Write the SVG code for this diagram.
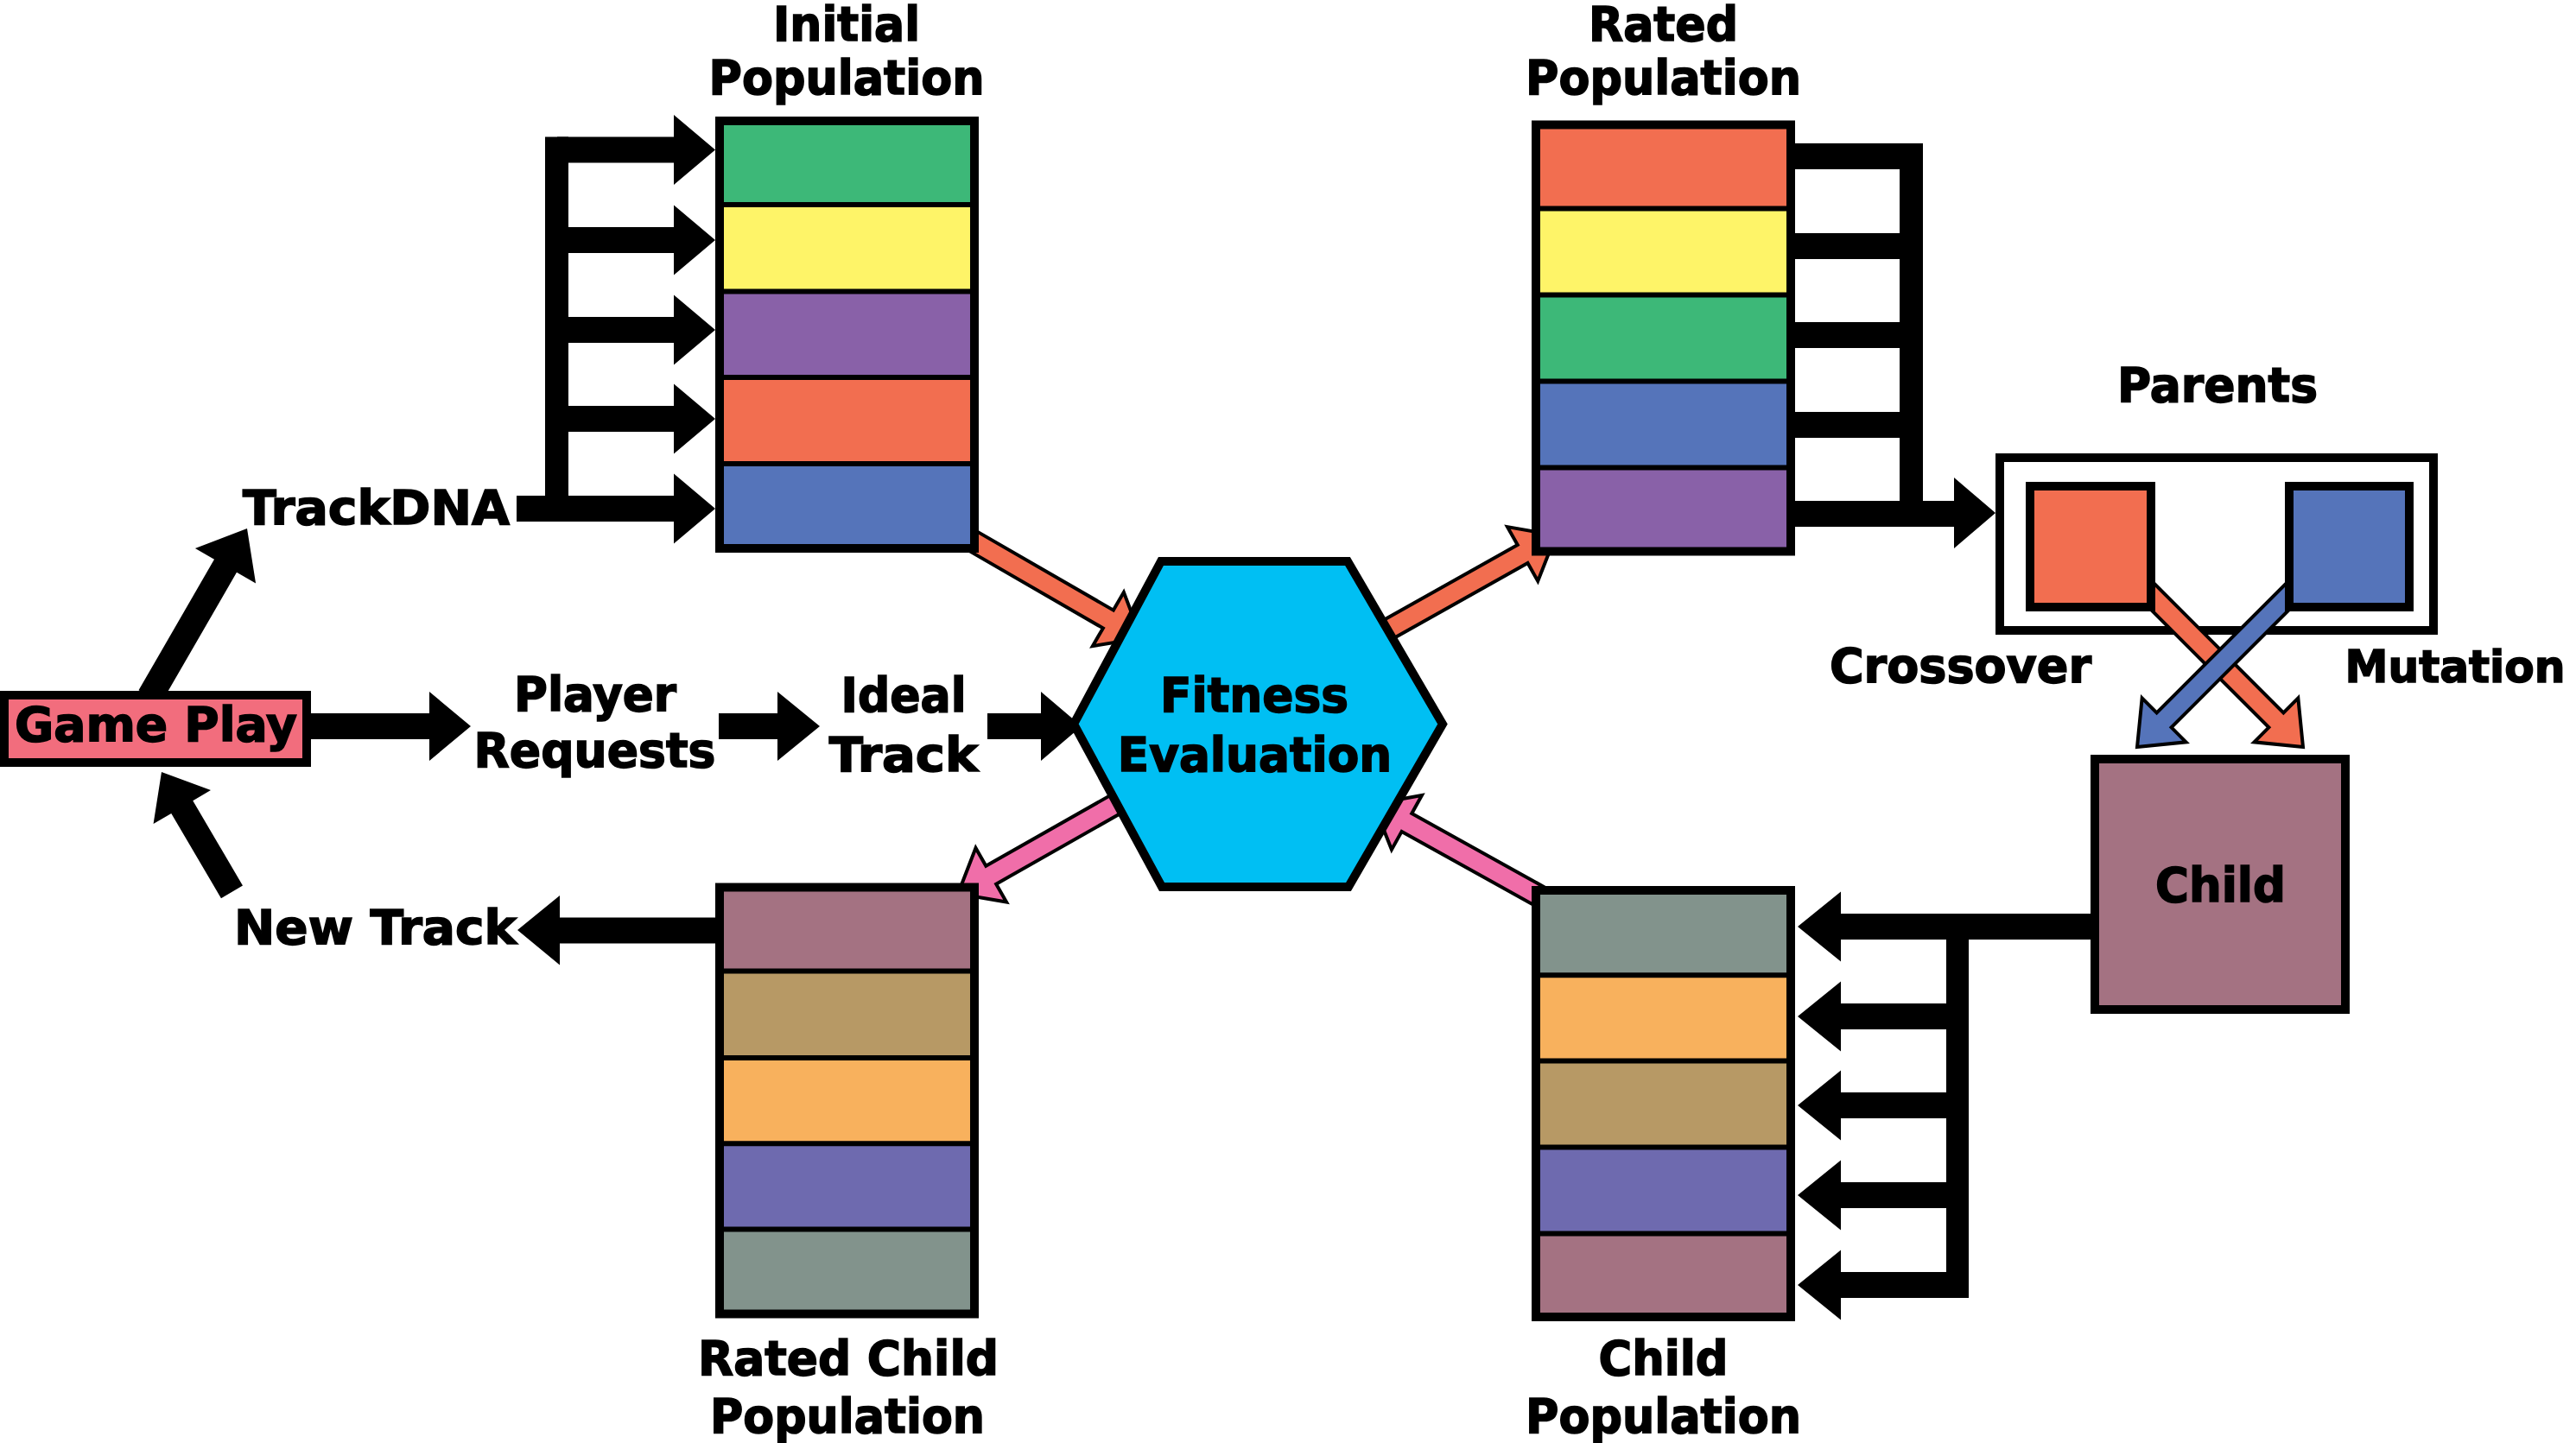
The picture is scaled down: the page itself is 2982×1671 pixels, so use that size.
<svg xmlns="http://www.w3.org/2000/svg" width="2982" height="1671" viewBox="0 0 2982 1671">
<style>
  text { font-family: "DejaVu Sans", "Liberation Sans", sans-serif; font-weight: bold; font-size: 55px; fill: #000; stroke: #000; stroke-width: 1.6px; }
  .c { text-anchor: middle; }
  .blk { fill: #000; }
  .frame { fill: none; stroke: #000; stroke-width: 10; }
  .div { stroke: #000; stroke-width: 6; }
  .carrow { stroke: #000; stroke-width: 4; stroke-linejoin: miter; }
  .g1 { fill: #3DB878; } .y1 { fill: #FEF468; } .p1 { fill: #8961A8; } .o1 { fill: #F26E50; } .b1 { fill: #5574BA; }
  .m1 { fill: #A47282; } .t1 { fill: #B79965; } .lo { fill: #F8B15D; } .v1 { fill: #6E6AAF; } .gr { fill: #82938C; }
  .pk { fill: #F06EA9; }
</style>
<rect x="0" y="0" width="2982" height="1671" fill="#fff"/>

<g id="node-parents-frame">
  <rect x="2315" y="530" width="502" height="200" fill="#fff" stroke="#000" stroke-width="10"/>
  <text class="c" x="2567" y="465" textLength="232" lengthAdjust="spacingAndGlyphs">Parents</text>
</g>

<g id="connectors">
  <rect class="blk" x="631" y="158.5" width="27" height="445.5"/>
  <polygon class="blk" points="645,158.5 780,158.5 780,133 828,173.5 780,214 780,188.5 645,188.5"/>
  <polygon class="blk" points="645,263 780,263 780,237.5 828,278 780,318.5 780,293 645,293"/>
  <polygon class="blk" points="645,367 780,367 780,341.5 828,382 780,422.5 780,397 645,397"/>
  <polygon class="blk" points="645,470 780,470 780,444.5 828,485 780,525.5 780,500 645,500"/>
  <polygon class="blk" points="598,574 780,574 780,548.5 828,589 780,629.5 780,604 598,604"/>

  <polygon class="blk" transform="translate(286,612) rotate(-60)" points="-225,-15 -50,-15 -50,-40.5 0,0 -50,40.5 -50,15 -225,15"/>
  <polygon class="blk" transform="translate(187,894) rotate(-120.4)" points="-161,-14.5 -47,-14.5 -47,-38.5 0,0 -47,38.5 -47,14.5 -161,14.5"/>

  <polygon class="blk" points="355,826 497,826 497,801 545,841 497,881 497,856 355,856"/>
  <polygon class="blk" points="832,826 900,826 900,801 949,841 900,881 900,856 832,856"/>
  <polygon class="blk" points="1143,826 1205,826 1205,801 1252,841 1205,881 1205,856 1143,856"/>

  <polygon class="blk" points="830,1062.5 648,1062.5 648,1037 599,1077 648,1117.5 648,1092.5 830,1092.5"/>

  <rect class="blk" x="2073" y="166" width="153" height="30"/>
  <rect class="blk" x="2073" y="270" width="140" height="30"/>
  <rect class="blk" x="2073" y="373" width="140" height="30"/>
  <rect class="blk" x="2073" y="477" width="140" height="30"/>
  <rect class="blk" x="2199" y="166" width="27" height="444"/>
  <polygon class="blk" points="2073,580 2262,580 2262,553 2310,594 2262,635 2262,610 2073,610"/>

  <polygon class="blk" points="2425,1058 2131,1058 2131,1032.5 2081,1073 2131,1113.5 2131,1088 2425,1088"/>
  <rect class="blk" x="2253" y="1058" width="26" height="445"/>
  <polygon class="blk" points="2266,1162 2131,1162 2131,1136.5 2081,1177 2131,1217.5 2131,1192 2266,1192"/>
  <polygon class="blk" points="2266,1265 2131,1265 2131,1239.5 2081,1280 2131,1320.5 2131,1295 2266,1295"/>
  <polygon class="blk" points="2266,1369 2131,1369 2131,1343.5 2081,1384 2131,1424.5 2131,1399 2266,1399"/>
  <polygon class="blk" points="2266,1473 2131,1473 2131,1447.5 2081,1488 2131,1528.5 2131,1503 2266,1503"/>

  <polygon class="carrow o1" transform="translate(1321,739) rotate(30)" points="-232,-12 -44,-12 -44,-36 0,0 -44,36 -44,12 -232,12"/>
  <polygon class="carrow o1" transform="translate(1801,620) rotate(-29.3)" points="-235,-12 -44,-12 -44,-36 0,0 -44,36 -44,12 -235,12"/>
  <polygon class="carrow pk" transform="translate(1109,1035) rotate(150.4)" points="-215,-12 -44,-12 -44,-36 0,0 -44,36 -44,12 -215,12"/>
  <polygon class="carrow pk" transform="translate(1590,931) rotate(-150.9)" points="-226,-12 -44,-12 -44,-36 0,0 -44,36 -44,12 -226,12"/>
  <polygon class="carrow o1" transform="translate(2666,865) rotate(45)" points="-280,-12 -44,-12 -44,-36 0,0 -44,36 -44,12 -280,12"/>
  <polygon class="carrow b1" transform="translate(2474,865) rotate(135)" points="-280,-12 -44,-12 -44,-36 0,0 -44,36 -44,12 -280,12"/>
</g>

<g id="node-parent-a">
  <rect class="o1" x="2350" y="563" width="140" height="140" stroke="#000" stroke-width="10"/>
</g>
<g id="node-parent-b">
  <rect class="b1" x="2650" y="563" width="139" height="140" stroke="#000" stroke-width="10"/>
</g>
<g id="label-crossover"><text class="c" x="2269.5" y="790" textLength="303" lengthAdjust="spacingAndGlyphs">Crossover</text></g>
<g id="label-mutation"><text class="c" x="2842" y="790" style="font-size:51px" textLength="255" lengthAdjust="spacingAndGlyphs">Mutation</text></g>

<g id="node-game-play">
  <rect x="5" y="805" width="350" height="78" fill="#F26D7D" stroke="#000" stroke-width="10"/>
  <text class="c" x="180.5" y="858" textLength="327" lengthAdjust="spacingAndGlyphs">Game Play</text>
</g>
<g id="node-trackdna"><text class="c" x="435.5" y="607" textLength="309" lengthAdjust="spacingAndGlyphs">TrackDNA</text></g>
<g id="node-player-requests">
  <text class="c" x="689" y="822.7" textLength="188" lengthAdjust="spacingAndGlyphs">Player</text>
  <text class="c" x="688.5" y="888" textLength="280" lengthAdjust="spacingAndGlyphs">Requests</text>
</g>
<g id="node-ideal-track">
  <text class="c" x="1046" y="824" textLength="145" lengthAdjust="spacingAndGlyphs">Ideal</text>
  <text class="c" x="1046" y="892.5" textLength="172.5" lengthAdjust="spacingAndGlyphs">Track</text>
</g>
<g id="node-new-track"><text class="c" x="434.5" y="1092.5" textLength="327" lengthAdjust="spacingAndGlyphs">New Track</text></g>

<g id="node-fitness">
  <polygon points="1344,650 1560,650 1670,838.5 1561,1027 1345,1027 1243,838.5" fill="#00BFF3" stroke="#000" stroke-width="10"/>
  <text class="c" x="1452" y="823.7" textLength="218" lengthAdjust="spacingAndGlyphs">Fitness</text>
  <text class="c" x="1452.5" y="892.5" textLength="317.5" lengthAdjust="spacingAndGlyphs">Evaluation</text>
</g>

<g id="node-initial-population">
  <rect class="g1" x="833" y="140" width="295" height="97"/>
  <rect class="y1" x="833" y="237" width="295" height="100.5"/>
  <rect class="p1" x="833" y="337.5" width="295" height="99.5"/>
  <rect class="o1" x="833" y="437" width="295" height="100"/>
  <rect class="b1" x="833" y="537" width="295" height="98"/>
  <line class="div" x1="833" y1="237" x2="1128" y2="237"/>
  <line class="div" x1="833" y1="337.5" x2="1128" y2="337.5"/>
  <line class="div" x1="833" y1="437" x2="1128" y2="437"/>
  <line class="div" x1="833" y1="537" x2="1128" y2="537"/>
  <rect class="frame" x="833" y="140" width="295" height="495"/>
  <text class="c" x="980" y="47" textLength="170" lengthAdjust="spacingAndGlyphs">Initial</text>
  <text class="c" x="980" y="109" textLength="319" lengthAdjust="spacingAndGlyphs">Population</text>
</g>

<g id="node-rated-population">
  <rect class="o1" x="1778" y="144.5" width="295" height="97"/>
  <rect class="y1" x="1778" y="241.5" width="295" height="100"/>
  <rect class="g1" x="1778" y="341.5" width="295" height="100"/>
  <rect class="b1" x="1778" y="441.5" width="295" height="100"/>
  <rect class="p1" x="1778" y="541.5" width="295" height="97"/>
  <line class="div" x1="1778" y1="241.5" x2="2073" y2="241.5"/>
  <line class="div" x1="1778" y1="341.5" x2="2073" y2="341.5"/>
  <line class="div" x1="1778" y1="441.5" x2="2073" y2="441.5"/>
  <line class="div" x1="1778" y1="541.5" x2="2073" y2="541.5"/>
  <rect class="frame" x="1778" y="144.5" width="295" height="494"/>
  <text class="c" x="1925.5" y="47" textLength="173" lengthAdjust="spacingAndGlyphs">Rated</text>
  <text class="c" x="1925.5" y="109" textLength="319" lengthAdjust="spacingAndGlyphs">Population</text>
</g>

<g id="node-child">
  <rect class="m1" x="2425" y="879" width="290" height="290" stroke="#000" stroke-width="10"/>
  <text class="c" x="2570.5" y="1044" textLength="151" lengthAdjust="spacingAndGlyphs">Child</text>
</g>

<g id="node-child-population">
  <rect class="gr" x="1778" y="1031" width="295" height="98.3"/>
  <rect class="lo" x="1778" y="1129.3" width="295" height="99.2"/>
  <rect class="t1" x="1778" y="1228.5" width="295" height="100"/>
  <rect class="v1" x="1778" y="1328.5" width="295" height="100"/>
  <rect class="m1" x="1778" y="1428.5" width="295" height="96.5"/>
  <line class="div" x1="1778" y1="1129.3" x2="2073" y2="1129.3"/>
  <line class="div" x1="1778" y1="1228.5" x2="2073" y2="1228.5"/>
  <line class="div" x1="1778" y1="1328.5" x2="2073" y2="1328.5"/>
  <line class="div" x1="1778" y1="1428.5" x2="2073" y2="1428.5"/>
  <rect class="frame" x="1778" y="1031" width="295" height="494"/>
  <text class="c" x="1925.5" y="1592" textLength="150" lengthAdjust="spacingAndGlyphs">Child</text>
  <text class="c" x="1925.5" y="1658.7" textLength="319" lengthAdjust="spacingAndGlyphs">Population</text>
</g>

<g id="node-rated-child-population">
  <rect class="m1" x="833" y="1027.5" width="295" height="97"/>
  <rect class="t1" x="833" y="1124.5" width="295" height="100.5"/>
  <rect class="lo" x="833" y="1225" width="295" height="99.3"/>
  <rect class="v1" x="833" y="1324.3" width="295" height="99.3"/>
  <rect class="gr" x="833" y="1423.6" width="295" height="97.9"/>
  <line class="div" x1="833" y1="1124.5" x2="1128" y2="1124.5"/>
  <line class="div" x1="833" y1="1225" x2="1128" y2="1225"/>
  <line class="div" x1="833" y1="1324.3" x2="1128" y2="1324.3"/>
  <line class="div" x1="833" y1="1423.6" x2="1128" y2="1423.6"/>
  <rect class="frame" x="833" y="1027.5" width="295" height="494"/>
  <text class="c" x="982" y="1592" textLength="348" lengthAdjust="spacingAndGlyphs">Rated Child</text>
  <text class="c" x="981" y="1658.7" textLength="318" lengthAdjust="spacingAndGlyphs">Population</text>
</g>
</svg>
